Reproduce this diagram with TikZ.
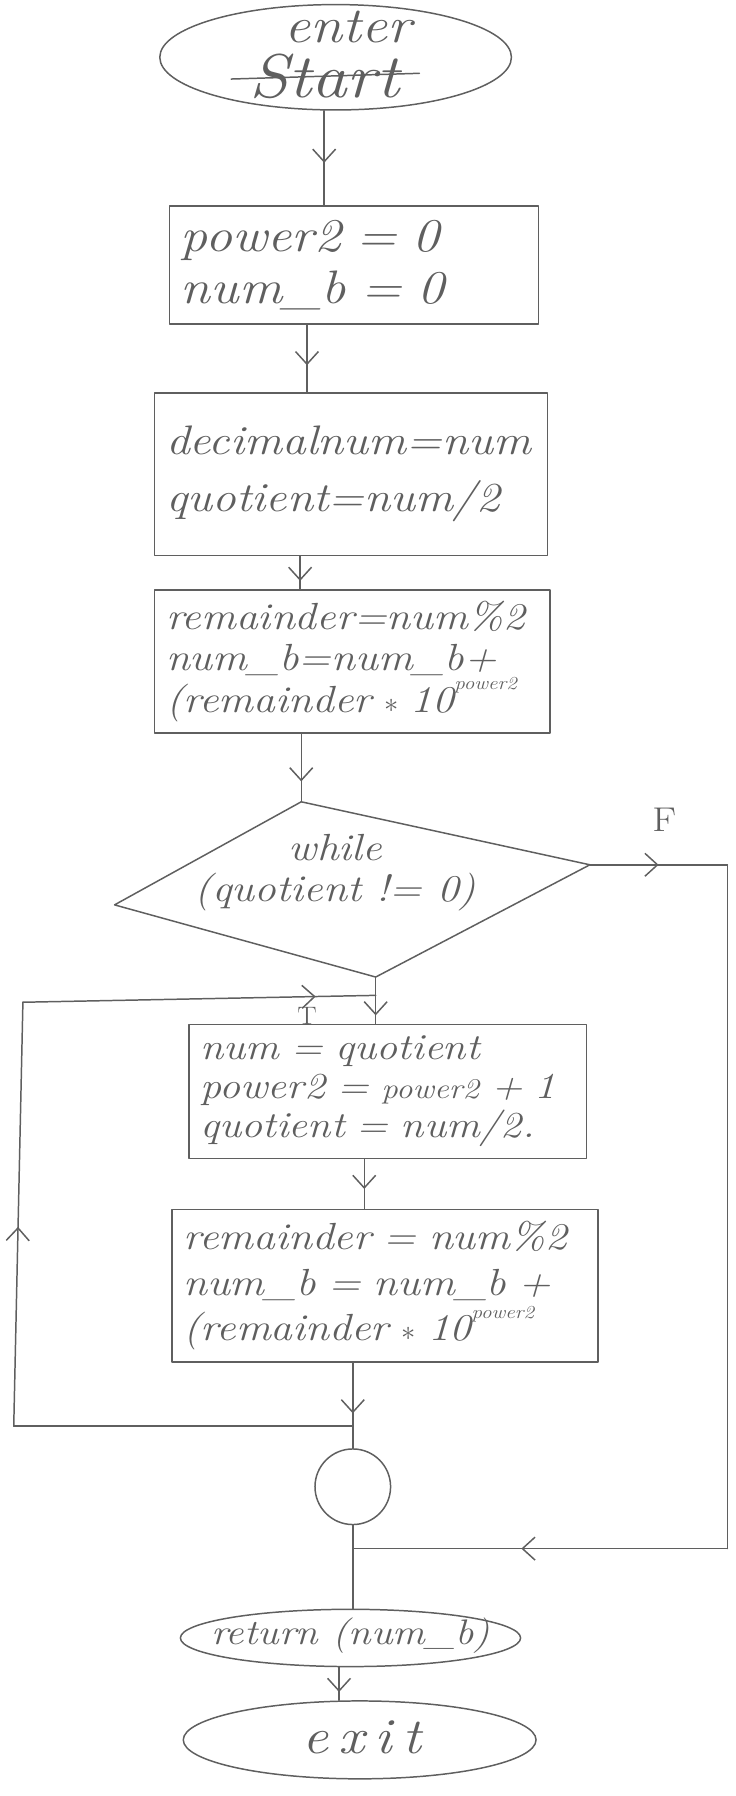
\documentclass[tikz,border=0pt]{standalone}
\usepackage{fontspec}
\newfontfamily\hand{Latin Modern Roman}[FakeStretch=1.15]
\usetikzlibrary{shapes.geometric,arrows.meta,decorations.markings}
\definecolor{ink}{HTML}{5F5F5F}
\newcommand\hsup[1]{\raisebox{.6em}{\fontsize{16pt}{16pt}\selectfont #1}}
\begin{document}
\begin{tikzpicture}[x=1pt,y=-1pt,
  every node/.style={text=ink},
  ln/.style={draw=ink, line width=1.3pt, line cap=round, line join=round},
  box/.style={ln, rectangle, inner sep=10pt, align=left},
  oval/.style={ln, ellipse, inner sep=0pt},
  hw/.style={font=\hand\itshape\fontsize{#1pt}{#1pt}\selectfont},
  mid/.style={postaction={decorate}, decoration={markings, mark=at position #1 with {\arrow{Straight Barb[length=11pt,width=20pt]}}}},
  mid/.default=0.6]
\useasboundingbox (0,0) rectangle (642,1568);

% start / enter
\node[oval, minimum width=307pt, minimum height=92pt] (startel) at (293,50) {};
\node[hw=44] (en) at (304,24) {enter};
\node[hw=54] (st) at (283,67) {Start};
\draw[ln] ([xshift=-12pt,yshift=-2pt]st.west) -- ([xshift=14pt,yshift=3pt]st.east);

% boxes
\node[box, text width=302pt, minimum height=103pt, font=\hand\itshape\fontsize{41pt}{46pt}\selectfont] (b1) at (309,231.5) {power2 = 0\\num\_b = 0};
\node[box, text width=323pt, minimum height=142pt, font=\hand\itshape\fontsize{36pt}{50pt}\selectfont] (b2) at (306.5,414) {decimalnum=num\\quotient=num/2};
\node[box, text width=325pt, minimum height=115pt, font=\hand\itshape\fontsize{33pt}{36pt}\selectfont] (b3) at (307.5,577.5) {remainder=num\%2\\num\_b=num\_b+\\(remainder $\ast$ 10\hsup{power2}};
\node[box, text width=327pt, minimum height=106pt, font=\hand\itshape\fontsize{32pt}{34pt}\selectfont] (b4) at (338.5,953) {num = quotient\\power2 = {\fontsize{25pt}{25pt}\selectfont power2} + 1\\quotient = num/2.};
\node[box, text width=352pt, minimum height=125pt, font=\hand\itshape\fontsize{33pt}{40pt}\selectfont] (b5) at (336,1122.5) {remainder = num\%2\\num\_b = num\_b +\\(remainder $\ast$ 10\hsup{power2}};

% diamond
\coordinate (dtop) at (263,700);
\coordinate (dright) at (515,755);
\coordinate (dbot) at (328,853);
\coordinate (dleft) at (100,790);
\draw[ln] (dtop) -- (dright) -- (dbot) -- (dleft) -- cycle;
\node[align=center, font=\hand\itshape\fontsize{33pt}{36pt}\selectfont] (dtext) at (293,762) {while\\(quotient != 0)};

% connector node, return, exit
\node[ln, circle, minimum size=66pt, inner sep=0pt] (circ) at (308,1298) {};
\node[oval, minimum width=297pt, minimum height=50pt] (ret) at (306,1430) {};
\node[hw=31] (rettext) at (306,1428) {return (num\_b)};
\node[oval, minimum width=308pt, minimum height=68pt] (ex) at (314,1519) {};
\node[font=\hand\itshape\fontsize{44pt}{44pt}\selectfont\addfontfeatures{LetterSpace=20}] (extext) at (316,1517) {exit};

% labels
\node[font=\hand\fontsize{30pt}{30pt}\selectfont] (lf) at (580,716) {F};
\node[font=\hand\fontsize{22pt}{22pt}\selectfont, inner sep=0pt] (lt) at (268,887) {T};

% main connectors
\coordinate (a1) at ([xshift=-10pt]startel.south);
\draw[ln, mid=0.55] (a1) -- (a1 |- b1.north);
\coordinate (a2) at ([xshift=-41pt]b1.south);
\draw[ln, mid=0.6] (a2) -- (a2 |- b2.north);
\coordinate (a3) at ([xshift=-44.5pt]b2.south);
\draw[ln, mid=0.75] (a3) -- (a3 |- b3.north);
\coordinate (a4) at ([xshift=-44.5pt]b3.south);
\draw[ln, mid=0.7] (a4) -- (dtop);
\coordinate (j2) at (328,869);
\draw[ln] (dbot) -- (j2);
\draw[ln, mid=0.7] (j2) -- (j2 |- b4.north);
\coordinate (a6) at ([xshift=-20.5pt]b4.south);
\draw[ln, mid=0.6] (a6) -- (a6 |- b5.north);
\coordinate (a7) at ([xshift=-28pt]b5.south);
\coordinate (j1) at (a7 |- 0,1245);
\draw[ln, mid=0.8] (a7) -- (j1);
\draw[ln] (j1) -- (circ.north);

% loop back
\coordinate (l1) at (12,1245);
\coordinate (l2) at (20,875);
\draw[ln] (j1) -- (l1);
\draw[ln, mid=0.47] (l1) -- (l2);
\draw[ln, mid=0.83] (l2) -- (j2);

% false branch
\coordinate (f1) at (635,755);
\coordinate (f2) at (635,1352);
\draw[ln, mid=0.5] (dright) -- (f1);
\draw[ln] (f1) -- (f2);
\draw[ln, mid=0.55] (f2) -- (f2 -| circ.south);
\draw[ln] (circ.south) -- (circ.south |- ret.north);
\coordinate (a9) at ([xshift=-10pt]ret.south);
\draw[ln, mid=0.75] (a9) -- (a9 |- ex.north);
\end{tikzpicture}
\end{document}
